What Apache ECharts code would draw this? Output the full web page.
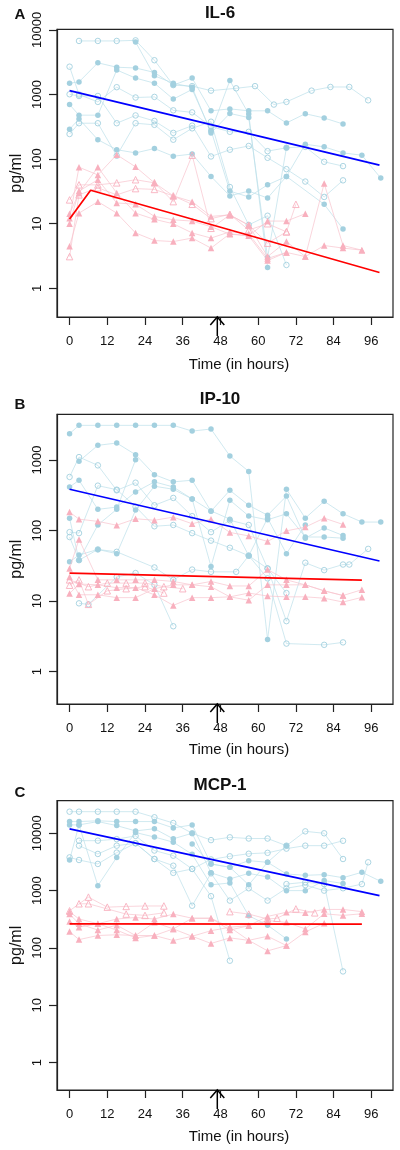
<!DOCTYPE html>
<html><head><meta charset="utf-8">
<script src="https://cdn.jsdelivr.net/npm/echarts@6/dist/echarts.min.js"></script>
<style>html,body{margin:0;padding:0;background:#fff}#c{width:400px;height:1150px}</style>
</head><body><div id="c"></div>
<script>
// ---------- data ----------
const panelTitles = ['IL-6', 'IP-10', 'MCP-1'];
const panelLetters = ['A', 'B', 'C'];
const xTicks = [0, 12, 24, 36, 48, 60, 72, 84, 96];
const yTicksA = [1, 10, 100, 1000, 10000];
const yTicksB = [1, 10, 100, 1000];
const yTicksC = [1, 10, 100, 1000, 10000];
const arrowHour = 47;

// IL-6
const il6BlueFilled = [
  [[0,1500],[3,1570],[9,3100],[15,2650],[21,2580],[27,2200],[33,1400],[39,1800],[45,560],[51,600],[57,560],[63,560],[69,363],[75,505],[81,434],[87,350]],
  [[0,700],[3,480],[9,480],[15,2400],[21,1800],[27,1500],[33,850],[39,1200],[45,270],[51,1650],[57,500],[63,2.1]],
  [[0,290],[3,420],[9,200],[15,140],[21,125],[27,146],[33,111],[39,120],[45,54],[51,27],[57,32],[63,25],[69,54],[75,170],[81,155],[87,125],[93,115],[99,51]],
  [[21,6500],[27,1950],[33,1500],[39,1300],[45,255],[51,510],[57,440],[63,3],[69,150]],
  [[45,280],[51,32],[57,26],[63,40],[69,54],[81,20],[87,8.3]]
];
const il6BlueOpen = [
  [[3,6760],[9,6760],[15,6760],[21,6900],[27,3400],[33,1400],[39,1350],[45,1150],[53,1250],[59,1350],[65,700],[69,770],[77,1150],[83,1310],[89,1310],[95,815]],
  [[0,2700],[3,1000],[9,770],[15,1300],[21,900],[27,920],[33,570],[39,530],[45,320],[51,265],[57,265],[63,133],[69,150],[75,155],[81,91],[87,78]],
  [[0,1010],[3,950],[9,950],[15,360],[21,475],[27,390],[33,255],[39,330],[45,110],[51,140],[57,160],[63,105],[69,70],[75,45],[81,26],[87,47]],
  [[0,245],[3,360],[9,360],[15,113],[21,360],[27,340],[33,200],[39,300],[45,380],[51,37],[57,9.6],[63,13.3],[69,2.3]]
];
const il6PinkFilled = [
  [[0,12.2],[3,75],[9,57],[15,117],[21,76],[27,43],[33,27],[39,22],[45,13],[51,13.7],[57,9.5],[63,3.1],[69,5.3],[75,3.1],[81,42],[87,4.6],[93,3.9]],
  [[0,10],[3,32],[9,48],[15,21],[21,20],[27,13],[33,11.5],[39,11],[45,9],[51,6.9],[57,6.5],[63,11],[69,11],[75,14.3]],
  [[0,4.5],[3,14.6],[9,22],[15,14.6],[21,7.2],[27,5.5],[33,5.3],[39,6],[45,4.2],[51,7],[57,6.5],[63,2.7],[69,3.6],[75,3.1],[81,4.6],[87,4.2],[93,3.9]],
  [[0,14.3],[3,30],[9,75],[15,30],[21,14.6],[27,11.7],[33,10],[39,7.2],[45,6],[51,7.5],[57,7],[63,2.9],[69,3.6]]
];
const il6PinkOpen = [
  [[0,23.4],[3,40],[9,40],[15,43],[21,48],[27,43],[33,22],[39,115],[45,8.5],[51,13.7],[57,9.5],[63,5],[69,7.5],[72,20]],
  [[0,3.1],[3,28],[9,36],[15,28],[21,35],[27,34],[33,27],[39,20],[45,12],[51,14],[57,8],[63,10],[69,7.5]]
];
const il6BlueFit = [[0,1150],[98.6,81]];
const il6RedFit = [[0,11.8],[6.7,33],[98.6,1.76]];

// IP-10
const ip10BlueFilled = [
  [[0,2360],[3,3100],[9,3100],[15,3100],[21,3100],[27,3100],[33,3100],[39,2570],[45,2750],[51,1140],[57,690],[63,2.85],[69,385],[75,150],[81,260],[87,173],[93,132],[99,132]],
  [[3,960],[9,1615],[15,1740],[21,1190],[27,620],[33,490],[39,517],[45,188],[51,372],[57,228],[63,165],[69,308],[75,78],[81,109],[87,85]],
  [[0,415],[3,516],[9,200],[15,215],[21,352],[27,490],[33,415],[39,280],[45,31],[51,270],[57,161],[63,142],[69,173],[75,81],[81,81],[87,78]],
  [[0,36],[3,45],[9,54],[15,47],[21,195],[27,425],[33,385],[39,280],[45,190],[51,145],[57,44],[63,150],[69,47],[75,120]],
  [[0,150],[3,38],[9,120],[15,200],[21,1010]]
];
const ip10BlueOpen = [
  [[0,575],[3,1100],[9,840],[15,372],[21,477],[27,228],[33,290],[39,160],[45,95],[51,140],[57,120],[63,29],[69,5.2],[75,35],[81,27.5],[87,33],[89,33],[95,55]],
  [[0,95],[3,92],[9,433],[15,380],[21,218],[27,115],[33,120],[39,92],[45,72],[51,57],[57,44],[63,29],[69,13]],
  [[0,81],[3,38],[9,54],[15,50],[27,30],[33,20],[39,28],[45,26],[53,26],[57,44],[63,21],[69,2.5],[81,2.4],[87,2.6]],
  [[3,9.3],[6,9],[15,22],[21,25],[27,17],[33,4.4]]
];
const ip10PinkFilled = [
  [[0,183],[3,145],[9,135],[15,119],[21,147],[27,140],[33,155],[39,125],[45,145],[51,94],[57,84],[63,70],[69,99],[75,112],[81,150],[87,122]],
  [[0,29],[3,75],[9,20],[15,20],[21,20],[27,20],[33,19],[39,17],[45,19],[51,16.4],[57,16.4],[63,28],[69,20],[75,17],[81,14],[87,12],[93,14.5]],
  [[0,12.8],[3,17.5],[9,17],[15,15.5],[21,15.5],[27,12.3],[33,8.7],[39,11.2],[45,11.2],[51,11.5],[57,13],[63,11.8],[69,11.5],[75,11.5],[81,11],[87,9.7],[93,11.3]],
  [[0,22],[3,12.3],[9,12.3],[15,11.2],[21,11.2],[27,15],[33,17],[39,17],[45,16],[51,11.5],[57,10.3],[63,17],[69,17],[75,17],[81,14],[87,12]]
];
const ip10PinkOpen = [
  [[0,16.8],[3,20],[6,9],[12,14],[18,15],[24,16],[30,13]],
  [[0,20],[6,16],[12,18],[18,18],[24,18],[30,16],[36,15]]
];
const ip10BlueFit = [[0,385],[98.6,37]];
const ip10RedFit = [[0,25],[93,19.8]];

// MCP-1
const mcp1BlueFilled = [
  [[0,16000],[3,16000],[9,16500],[15,16000],[21,16000],[27,16000],[33,12400],[39,14000],[45,2920],[51,2550],[57,1260],[63,3120],[69,1950],[75,1850],[81,1900],[87,1680],[93,2090],[99,1450]],
  [[0,14000],[3,14000],[9,16000],[15,13600],[21,11000],[27,12000],[33,8000],[39,10000],[45,2040],[51,1600],[57,2000],[63,1730],[69,1000],[75,1000],[81,1500],[87,1330]],
  [[0,3420],[3,14000],[9,1220],[15,3800],[21,10300],[27,8600],[33,7000],[39,4300],[45,1260],[51,1360],[57,365],[63,250],[69,144]],
  [[39,6500],[45,2920],[51,2550],[57,3330],[63,3120],[69,6080]]
];
const mcp1BlueOpen = [
  [[0,23800],[3,23800],[9,23800],[15,23800],[21,23800],[27,19000],[33,15100],[39,10000],[45,7600],[51,8500],[57,8100],[63,8100],[69,6080],[75,10800],[81,10000],[87,3560]],
  [[3,7430],[9,7430],[15,7900],[21,9000],[27,5000],[33,4070],[39,2390],[45,3500],[51,3970],[57,4400],[63,4560],[69,5400],[75,6080],[81,6080],[87,7400]],
  [[0,3800],[3,3420],[9,2920],[15,4600],[21,6700],[27,3560],[33,2720],[39,545],[45,2000],[51,670],[57,1100],[63,670],[69,1100],[75,1250],[81,1000],[87,1100],[93,1300],[95,3120]],
  [[3,6080],[9,4360],[15,6080],[21,6700],[27,3560],[33,2040],[39,2390],[45,800],[51,60]],
  [[69,1300],[75,1400],[81,1300],[87,39]]
];
const mcp1PinkFilled = [
  [[0,430],[3,320],[9,265],[15,320],[21,340],[27,320],[33,390],[39,330],[45,330],[51,230],[57,245],[63,355],[69,420],[75,410],[81,470],[87,470],[93,430]],
  [[0,390],[3,265],[9,205],[15,250],[21,165],[27,280],[33,215],[39,330],[45,330],[51,205],[57,245],[63,300],[69,280],[75,215],[81,395],[87,370],[93,395]],
  [[0,290],[3,230],[9,265],[15,205],[21,150],[27,165],[33,215],[39,160],[45,200],[51,230],[57,136],[63,160],[69,110],[75,190],[81,270]],
  [[0,193],[3,140],[9,165],[15,170],[21,165],[27,165],[33,135],[39,160],[45,120],[51,150],[57,136],[63,89],[69,110]]
];
const mcp1PinkOpen = [
  [[0,445],[6,770],[12,515],[18,530],[24,540],[30,540]],
  [[3,590],[6,590],[18,390],[24,370],[30,410]],
  [[51,430],[57,390],[63,320],[66,330],[72,480],[78,410]]
];
const mcp1BlueFit = [[0,11900],[98.6,820]];
const mcp1RedFit = [[0,263],[93,260]];

// ---------- layout / style ----------
const FONT = 'Liberation Sans, Arial, Helvetica, sans-serif';
const BLUE = '#A3D0DF', BLUE_LINE = '#BCDFEA', PINK = '#F8B0BE', PINK_LINE = '#F8C3CD';
const grids = [
  {top: 29.3, height: 287.7, yMin: 0.36, yMax: 10240, yTicks: yTicksA},
  {top: 414.3, height: 289.7, yMin: 0.348, yMax: 4446, yTicks: yTicksB},
  {top: 800.7, height: 289.3, yMin: 0.334, yMax: 36980, yTicks: yTicksC}
];
const panels = [
  {bf: il6BlueFilled, bo: il6BlueOpen, pf: il6PinkFilled, po: il6PinkOpen, bfit: il6BlueFit, rfit: il6RedFit},
  {bf: ip10BlueFilled, bo: ip10BlueOpen, pf: ip10PinkFilled, po: ip10PinkOpen, bfit: ip10BlueFit, rfit: ip10RedFit},
  {bf: mcp1BlueFilled, bo: mcp1BlueOpen, pf: mcp1PinkFilled, po: mcp1PinkOpen, bfit: mcp1BlueFit, rfit: mcp1RedFit}
];
const titleY = [13, 399, 785];
const letterY = [15, 405, 793];
const xlabY = [365, 750, 1137];

const chart = echarts.init(document.getElementById('c'), null, {renderer: 'canvas'});
const series = [];
function addLine(data, i, lineColor, color, open, symbol, size, z) {
  series.push({
    type: 'line', xAxisIndex: i, yAxisIndex: i, data: data,
    symbol: symbol, symbolSize: size, showAllSymbol: true,
    lineStyle: {color: lineColor, width: 0.7},
    itemStyle: {color: open ? 'rgba(255,255,255,0)' : color, borderColor: color, borderWidth: open ? 0.9 : 0},
    emphasis: {disabled: true}, silent: true, animation: false, z: z
  });
}
panels.forEach((p, i) => {
  p.bo.forEach(d => addLine(d, i, BLUE_LINE, BLUE, true, 'circle', 5.5, 2));
  p.bf.forEach(d => addLine(d, i, BLUE_LINE, BLUE, false, 'circle', 5.5, 2));
  p.po.forEach(d => addLine(d, i, PINK_LINE, PINK, true, 'triangle', 6.5, 3));
  p.pf.forEach(d => addLine(d, i, PINK_LINE, PINK, false, 'triangle', 6.5, 3));
  series.push({type: 'line', xAxisIndex: i, yAxisIndex: i, data: p.bfit, symbol: 'none',
    lineStyle: {color: '#0000FF', width: 1.7}, silent: true, animation: false, z: 5});
  series.push({type: 'line', xAxisIndex: i, yAxisIndex: i, data: p.rfit, symbol: 'none',
    lineStyle: {color: '#FF0000', width: 1.7}, silent: true, animation: false, z: 5});
});

const graphic = [];
for (let i = 0; i < 3; i++) {
  graphic.push({type: 'text', x: 220, y: titleY[i], style: {text: panelTitles[i], font: 'bold 17px ' + FONT, fill: '#111', align: 'center', verticalAlign: 'middle'}});
  graphic.push({type: 'text', x: 20, y: letterY[i], style: {text: panelLetters[i], font: 'bold 15px ' + FONT, fill: '#111', align: 'center', verticalAlign: 'middle'}});
  graphic.push({type: 'text', x: 239, y: xlabY[i], style: {text: 'Time (in hours)', font: '15px ' + FONT, fill: '#111', align: 'center', verticalAlign: 'middle'}});
  const g = grids[i];
  graphic.push({type: 'text', x: 17, y: g.top + g.height / 2, rotation: Math.PI / 2, style: {text: 'pg/ml', font: '16px ' + FONT, fill: '#111', align: 'center', verticalAlign: 'middle'}});
}

const option = {
  animation: false,
  backgroundColor: '#fff',
  grid: grids.map(g => ({left: 57, width: 336, top: g.top, height: g.height, show: true, borderColor: '#222', borderWidth: 1.2, backgroundColor: 'transparent', containLabel: false, outerBoundsMode: 'none'})),
  xAxis: grids.map((g, i) => ({
    type: 'value', gridIndex: i, min: -4, max: 102.9, position: 'bottom',
    axisLine: {show: true, onZero: false, lineStyle: {color: '#222', width: 1.2}},
    axisTick: {show: true, customValues: xTicks, length: 8, inside: false, lineStyle: {color: '#222', width: 1.2}},
    axisLabel: {show: true, customValues: xTicks, margin: 18, fontSize: 13, fontFamily: FONT, color: '#111'},
    splitLine: {show: false}
  })),
  yAxis: grids.map((g, i) => ({
    type: 'log', logBase: 10, gridIndex: i, min: g.yMin, max: g.yMax, position: 'left',
    axisLine: {show: true, onZero: false, lineStyle: {color: '#222', width: 1.2}},
    axisTick: {show: true, customValues: g.yTicks, length: 8, inside: false, lineStyle: {color: '#222', width: 1.2}},
    axisLabel: {show: true, customValues: g.yTicks, rotate: 90, margin: 13, fontSize: 13, fontFamily: FONT, color: '#111',
      formatter: v => String(Math.round(v))},
    splitLine: {show: false}, minorTick: {show: false}
  })),
  series: series,
  graphic: graphic
};
chart.setOption(option);

// arrows marking hour 47 below each panel
const arrows = [];
for (let i = 0; i < 3; i++) {
  const p = chart.convertToPixel({xAxisIndex: i, yAxisIndex: i}, [arrowHour, grids[i].yMin]);
  const x = p[0], y = p[1];
  arrows.push({type: 'polyline', shape: {points: [[x, y + 19], [x, y]]}, style: {stroke: '#000', lineWidth: 1.5, fill: null}, z: 100});
  arrows.push({type: 'polyline', shape: {points: [[x - 7, y + 8], [x, y], [x + 7, y + 8]]}, style: {stroke: '#000', lineWidth: 1.5, fill: null}, z: 100});
}
chart.setOption({graphic: graphic.concat(arrows)});
</script></body></html>
